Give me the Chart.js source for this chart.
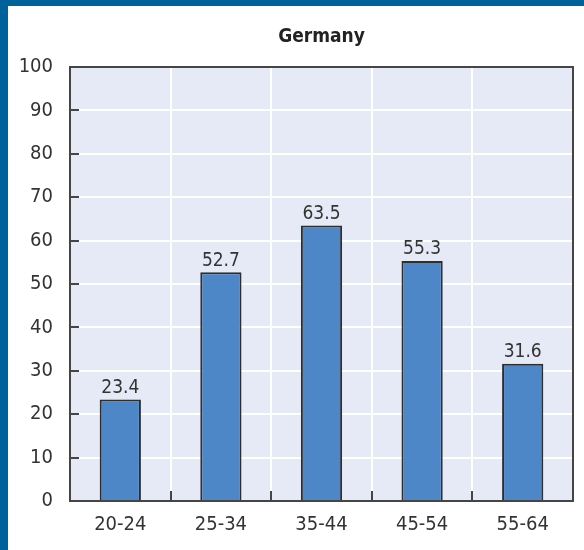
<!DOCTYPE html>
<html>
<head>
<meta charset="utf-8">
<script src="https://cdn.jsdelivr.net/npm/chart.js@4.4.0/dist/chart.umd.min.js"></script>
<style>
  html, body { margin: 0; padding: 0; background: #fff; }
  #frame {
    position: absolute; left: 0; top: 0;
    width: 576px; height: 544px;
    border-left: 8px solid #00629b;
    border-top: 6px solid #00629b;
    background: #fff;
  }
  canvas { display: block; }
</style>
</head>
<body>
<div id="frame"><canvas id="chart" width="576" height="544"></canvas></div>
<script>
const chartTitle = 'Germany';
const ageGroups = ['20-24', '25-34', '35-44', '45-54', '55-64'];
const shares = [23.4, 52.7, 63.5, 55.3, 31.6];
const yTicks = [0, 10, 20, 30, 40, 50, 60, 70, 80, 90, 100];

const FONT = '"Liberation Sans Narrow", "Arial Narrow", "DejaVu Sans Condensed", sans-serif';
const INK = '#333333';
const FRAME = '#454545';

// fills the plot background and draws the frame, inner ticks, title and value labels
const decorPlugin = {
    id: 'decor',
    beforeDraw(chart) {
        const { ctx, chartArea: a } = chart;
        ctx.save();
        ctx.fillStyle = '#e6eaf6';
        ctx.fillRect(a.left, a.top, a.right - a.left, a.bottom - a.top);
        ctx.restore();
    },
    afterDatasetsDraw(chart) {
        const { ctx, chartArea: a, scales } = chart;
        ctx.save();

        // value labels above bars
        ctx.font = '19px ' + FONT;
        ctx.fillStyle = INK;
        ctx.textAlign = 'center';
        ctx.textBaseline = 'bottom';
        chart.getDatasetMeta(0).data.forEach((bar, i) => {
            ctx.fillText(shares[i].toFixed(1), bar.x, bar.y - 2);
        });

        ctx.strokeStyle = FRAME;
        ctx.lineWidth = 2;

        // small inward ticks on the value axis
        yTicks.forEach(v => {
            if (v === 0 || v === 100) return;
            const y = Math.round(scales.y.getPixelForValue(v));
            ctx.beginPath();
            ctx.moveTo(a.left, y);
            ctx.lineTo(a.left + 9, y);
            ctx.stroke();
        });

        // small upward ticks between categories
        for (let i = 1; i < ageGroups.length; i++) {
            const x = Math.round((scales.x.getPixelForTick(i - 1) + scales.x.getPixelForTick(i)) / 2);
            ctx.beginPath();
            ctx.moveTo(x, a.bottom);
            ctx.lineTo(x, a.bottom - 10);
            ctx.stroke();
        }

        ctx.strokeRect(a.left, a.top, a.right - a.left, a.bottom - a.top);

        // title centred over the plot
        ctx.font = 'bold 19px ' + FONT;
        ctx.fillStyle = '#222222';
        ctx.textBaseline = 'middle';
        ctx.fillText(chartTitle, (a.left + a.right) / 2, 31);
        ctx.restore();
    }
};

new Chart(document.getElementById('chart'), {
    type: 'bar',
    data: {
        labels: ageGroups,
        datasets: [{
            data: shares,
            backgroundColor: '#4d87c7',
            borderColor: '#2e2e2e',
            borderWidth: 2,
            barPercentage: 0.41,
            categoryPercentage: 1.0
        }]
    },
    options: {
        responsive: false,
        animation: false,
        devicePixelRatio: 1,
        layout: { padding: { top: 61, right: 11, left: 0, bottom: 0 } },
        plugins: {
            legend: { display: false },
            title: { display: false },
            tooltip: { enabled: false }
        },
        scales: {
            x: {
                grid: { color: '#ffffff', lineWidth: 2, drawTicks: false, offset: true },
                border: { display: false },
                ticks: { color: INK, font: { family: FONT, size: 20 }, padding: 12 },
                afterFit: (scale) => { scale.height = 49; }
            },
            y: {
                min: 0,
                max: 100,
                grid: { color: '#ffffff', lineWidth: 2, drawTicks: false },
                border: { display: false },
                ticks: { stepSize: 10, color: INK, font: { family: FONT, size: 20 }, padding: 17 },
                afterFit: (scale) => { scale.width = 62; }
            }
        }
    },
    plugins: [decorPlugin]
});
</script>
</body>
</html>
